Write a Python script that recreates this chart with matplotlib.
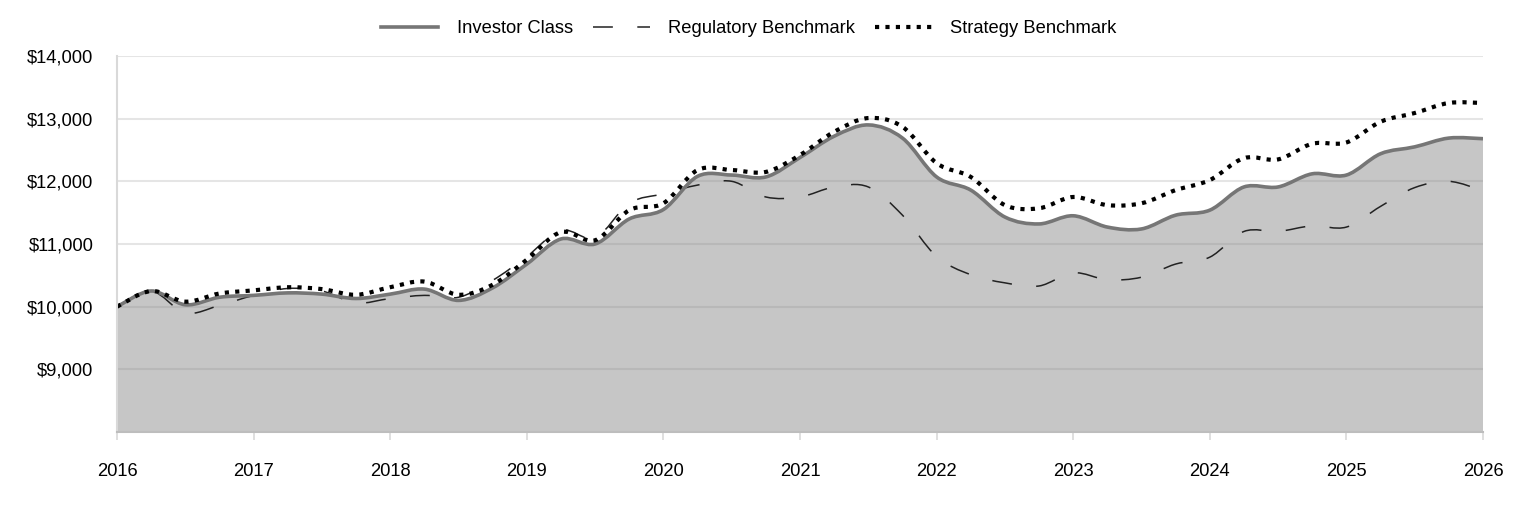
import matplotlib
matplotlib.use("Agg")
import matplotlib.pyplot as plt
from matplotlib.path import Path
from matplotlib.patches import PathPatch
from matplotlib.ticker import FuncFormatter

plt.rcParams['font.family'] = ['Liberation Sans', 'DejaVu Sans']

# quarterly points, 2016.00 .. 2026.00
years = [2016 + q / 4 for q in range(41)]

investor = [10000, 10250, 10030, 10150, 10180, 10220, 10200, 10130, 10200, 10280,
            10100, 10300, 10680, 11080, 11000, 11400, 11550, 12080, 12100, 12070,
            12380, 12720, 12900, 12690, 12070, 11860, 11430, 11320, 11450, 11270,
            11240, 11460, 11540, 11910, 11910, 12120, 12100, 12440, 12550, 12690,
            12680]

regulatory = [10000, 10250, 9900, 10020, 10180, 10290, 10250, 10060, 10130, 10180,
              10150, 10420, 10800, 11220, 11100, 11650, 11800, 11940, 12000, 11750,
              11750, 11910, 11910, 11460, 10800, 10510, 10380, 10330, 10540, 10430,
              10470, 10680, 10790, 11200, 11200, 11290, 11270, 11600, 11900, 12000,
              11850]

strategy = [10000, 10250, 10080, 10210, 10260, 10310, 10280, 10190, 10310, 10400,
            10190, 10350, 10750, 11190, 11060, 11540, 11650, 12180, 12180, 12150,
            12420, 12790, 13010, 12870, 12290, 12070, 11620, 11570, 11750, 11620,
            11650, 11860, 12020, 12370, 12350, 12600, 12620, 12950, 13090, 13250,
            13250]

year_ticks = list(range(2016, 2027))
value_ticks = [9000, 10000, 11000, 12000, 13000, 14000]
FLOOR = 8000


def smooth_path(xs, ys, close_to=None):
    # smoothed line through the points (Catmull-Rom drawn as cubic Beziers)
    n = len(xs)
    verts = [(xs[0], ys[0])]
    codes = [Path.MOVETO]
    for i in range(n - 1):
        i0, i2 = max(i - 1, 0), min(i + 2, n - 1)
        c1 = (xs[i] + (xs[i + 1] - xs[i0]) / 6, ys[i] + (ys[i + 1] - ys[i0]) / 6)
        c2 = (xs[i + 1] - (xs[i2] - xs[i]) / 6, ys[i + 1] - (ys[i2] - ys[i]) / 6)
        verts += [c1, c2, (xs[i + 1], ys[i + 1])]
        codes += [Path.CURVE4] * 3
    if close_to is not None:
        verts += [(xs[-1], close_to), (xs[0], close_to), (xs[0], ys[0])]
        codes += [Path.LINETO, Path.LINETO, Path.CLOSEPOLY]
    return Path(verts, codes)


fig = plt.figure(figsize=(15.24, 5.16), dpi=100)
ax = fig.add_axes([0.0768, 0.1628, 0.8963, 0.7287])

ax.add_patch(PathPatch(smooth_path(years, investor, FLOOR), facecolor='#c6c6c6',
                       lw=0, zorder=1))
for v in value_ticks:
    ax.axhline(v, color='#888888', alpha=0.21, lw=1.5, zorder=2)

inv_style = dict(color='#767676', lw=2.6)
reg_style = dict(color='#222222', lw=1.1, linestyle=(0, (13, 16)))
str_style = dict(color='black', lw=3.0, linestyle=(0, (1, 1.5)))

ax.add_patch(PathPatch(smooth_path(years, regulatory), fill=False, zorder=3,
                       edgecolor=reg_style['color'], lw=reg_style['lw'],
                       linestyle=reg_style['linestyle']))
ax.add_patch(PathPatch(smooth_path(years, investor), fill=False, zorder=4,
                       edgecolor=inv_style['color'], lw=inv_style['lw'],
                       joinstyle='round', capstyle='butt'))
ax.add_patch(PathPatch(smooth_path(years, strategy), fill=False, zorder=5,
                       edgecolor=str_style['color'], lw=str_style['lw'],
                       linestyle=str_style['linestyle'], capstyle='butt'))

# legend entries
ax.plot([], [], label='Investor Class', **inv_style)
ax.plot([], [], label='Regulatory Benchmark', **reg_style)
ax.plot([], [], label='Strategy Benchmark', dash_capstyle='butt', **str_style)

ax.set_xlim(2016, 2026)
ax.set_ylim(FLOOR, 14000)
ax.set_xticks(year_ticks)
ax.set_yticks(value_ticks)
ax.yaxis.set_major_formatter(FuncFormatter(lambda v, p: f"${v:,.0f}"))

for s in ['top', 'right']:
    ax.spines[s].set_visible(False)
ax.spines['left'].set_color('#d9d9d9')
ax.spines['left'].set_linewidth(1.5)
ax.spines['bottom'].set_color('#bdbdbd')
ax.spines['bottom'].set_linewidth(1.5)
ax.spines['left'].set_zorder(6)
ax.spines['bottom'].set_zorder(6)

ax.tick_params(axis='x', length=6, width=1.2, color='#d9d9d9', pad=16,
               labelsize=13.2, labelcolor='black')
ax.tick_params(axis='y', length=0, pad=17, labelsize=13.2, labelcolor='black')

fig.legend(loc='center', bbox_to_anchor=(0.4915, 0.944), ncol=3, frameon=False,
           fontsize=13.2, handlelength=3.1, handletextpad=1.0, columnspacing=1.1)

fig.savefig('out.png', dpi=100)
